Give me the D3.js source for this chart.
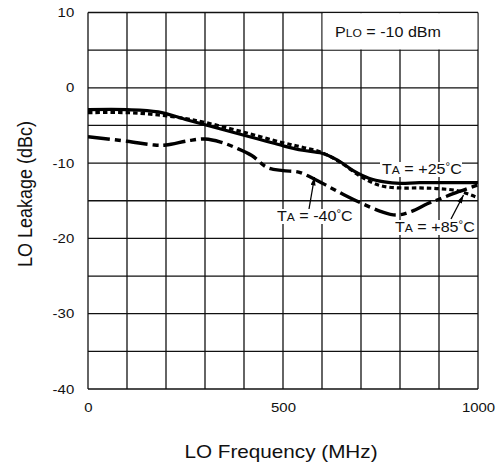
<!DOCTYPE html>
<html>
<head>
<meta charset="utf-8">
<script src="https://cdn.jsdelivr.net/npm/d3@7/dist/d3.min.js"></script>
<style>
  html, body { margin: 0; padding: 0; background: #fff; }
  svg { display: block; font-family: "Liberation Sans", Arial, Helvetica, sans-serif; }
</style>
</head>
<body>
<svg id="chart" width="500" height="468"></svg>
<script>
// ---- data ----
const xTicks = [0, 500, 1000];
const yTicks = [-40, -30, -20, -10, 0, 10];
const xGrid = [0, 100, 200, 300, 400, 500, 600, 700, 800, 900, 1000];
const yGrid = [-40, -35, -30, -25, -20, -15, -10, -5, 0, 5, 10];

const freq25 = [0, 100, 180, 250, 300, 400, 450, 500, 550, 600, 640, 680, 720, 760, 800, 850, 1000];
const leak25 = [-2.9, -2.9, -3.2, -4.2, -4.9, -6.3, -7.0, -7.7, -8.3, -8.7, -9.6, -11.0, -12.0, -12.5, -12.7, -12.6, -12.6];

const freq85 = [0, 100, 180, 250, 300, 400, 500, 550, 600, 650, 700, 750, 800, 850, 900, 950, 1000];
const leak85 = [-3.3, -3.3, -3.6, -4.1, -4.6, -5.9, -7.3, -7.9, -8.6, -10.0, -11.8, -13.0, -13.3, -13.3, -13.4, -13.7, -14.6];

const freqM40 = [0, 100, 170, 200, 260, 300, 340, 380, 420, 460, 500, 540, 580, 620, 660, 700, 750, 790, 830, 870, 900, 950, 1000];
const leakM40 = [-6.5, -7.1, -7.6, -7.6, -7.0, -6.8, -7.2, -8.0, -9.0, -10.6, -11.0, -11.2, -12.1, -13.2, -14.3, -15.3, -16.4, -16.9, -16.4, -15.4, -14.8, -13.8, -12.9];

// ---- layout ----
const svg = d3.select("#chart");
const x = d3.scaleLinear().domain([0, 1000]).range([88, 478]);
const y = d3.scaleLinear().domain([-40, 10]).range([389, 12.5]);
const SX = 1.15; // horizontal text stretch

// gridlines
const grid = svg.append("g").attr("stroke", "#111").attr("stroke-width", 1.3);
grid.selectAll("line.v").data(xGrid).join("line").attr("class", "v")
  .attr("x1", d => x(d)).attr("x2", d => x(d)).attr("y1", y(10)).attr("y2", y(-40));
grid.selectAll("line.h").data(yGrid).join("line").attr("class", "h")
  .attr("x1", x(0)).attr("x2", x(1000)).attr("y1", d => y(d)).attr("y2", d => y(d));

// PLO box (covers the grid in the top right cells)
svg.append("rect").attr("x", x(600) + 0.7).attr("y", y(10) + 0.7)
  .attr("width", x(1000) - x(600) - 1.4).attr("height", y(5) - y(10) - 1.4)
  .attr("fill", "#fff");
const plo = svg.append("g").attr("transform", `translate(${x(600) + 13},37) scale(${SX},1)`)
  .append("text").attr("font-size", 14).attr("fill", "#111");
plo.append("tspan").text("P");
plo.append("tspan").attr("font-size", 10.5).text("LO");
plo.append("tspan").text(" = -10 dBm");

// axes (labels only)
const fmt = d => String(d);
const xAxis = svg.append("g").attr("transform", `translate(0,${y(-40)})`)
  .call(d3.axisBottom(x).tickValues(xTicks).tickFormat(fmt).tickSize(0).tickPadding(14));
xAxis.select(".domain").remove();
xAxis.selectAll("text").attr("font-size", 13).attr("fill", "#111")
  .attr("font-family", "Liberation Sans, Arial, sans-serif")
  .attr("transform", `scale(${SX},1)`);

const yAxis = svg.append("g").attr("transform", `translate(${x(0)},0)`)
  .call(d3.axisLeft(y).tickValues(yTicks).tickFormat(fmt).tickSize(0).tickPadding(12));
yAxis.select(".domain").remove();
yAxis.selectAll("text").attr("font-size", 13).attr("fill", "#111")
  .attr("font-family", "Liberation Sans, Arial, sans-serif")
  .attr("transform", `scale(${SX},1)`);

// lines
const line = d3.line().x(d => x(d[0])).y(d => y(d[1])).curve(d3.curveCatmullRom.alpha(0.5));
svg.append("clipPath").attr("id", "plotclip").append("rect")
  .attr("x", x(0)).attr("y", y(10)).attr("width", x(1000) - x(0)).attr("height", y(-40) - y(10));
const lines = svg.append("g").attr("clip-path", "url(#plotclip)").attr("fill", "none").attr("stroke", "#000");

lines.append("path").datum(d3.zip(freqM40, leakM40)).attr("d", line)
  .attr("stroke-width", 3.4).attr("stroke-dasharray", "22,5,6,5");
lines.append("path").datum(d3.zip(freq85, leak85)).attr("d", line)
  .attr("stroke-width", 3.2).attr("stroke-dasharray", "4.5,3");
lines.append("path").datum(d3.zip(freq25, leak25)).attr("d", line)
  .attr("stroke-width", 3.2);

// annotation labels
function tempLabel(px, py, value, w) {
  svg.append("rect").attr("x", px - 2).attr("y", py - 12).attr("width", w).attr("height", 15).attr("fill", "#fff");
  const t = svg.append("g").attr("transform", `translate(${px},${py}) scale(${SX},1)`)
    .append("text").attr("font-size", 14).attr("fill", "#111");
  t.append("tspan").text("T");
  t.append("tspan").attr("font-size", 10.5).text("A");
  t.append("tspan").text(" = " + value);
  t.append("tspan").attr("font-size", 10).attr("dy", -4).text("°");
  t.append("tspan").attr("dy", 4).text("C");
}
tempLabel(382, 174, "+25", 82);
tempLabel(277, 221, "-40", 78);
tempLabel(395, 232, "+85", 78);

// arrows
const defs = svg.append("defs");
defs.append("marker").attr("id", "ah").attr("viewBox", "0 0 10 6").attr("refX", 10).attr("refY", 3)
  .attr("markerWidth", 10).attr("markerHeight", 5).attr("markerUnits", "userSpaceOnUse").attr("orient", "auto")
  .append("path").attr("d", "M0,0 L10,3 L0,6 Z").attr("fill", "#000");
svg.append("line").attr("x1", 309).attr("y1", 209).attr("x2", 314.5).attr("y2", 177)
  .attr("stroke", "#000").attr("stroke-width", 1.3).attr("marker-end", "url(#ah)");
svg.append("line").attr("x1", 451).attr("y1", 219).attr("x2", 463.5).attr("y2", 195)
  .attr("stroke", "#000").attr("stroke-width", 1.3).attr("marker-end", "url(#ah)");

// axis titles
svg.append("g").attr("transform", `translate(281,458) scale(${SX},1)`)
  .append("text").attr("text-anchor", "middle").attr("font-size", 18).attr("fill", "#111")
  .text("LO Frequency (MHz)");
svg.append("g").attr("transform", `translate(32,194) rotate(-90) scale(1,${SX})`)
  .append("text").attr("text-anchor", "middle").attr("font-size", 18).attr("fill", "#111")
  .text("LO Leakage (dBc)");
</script>
</body>
</html>
